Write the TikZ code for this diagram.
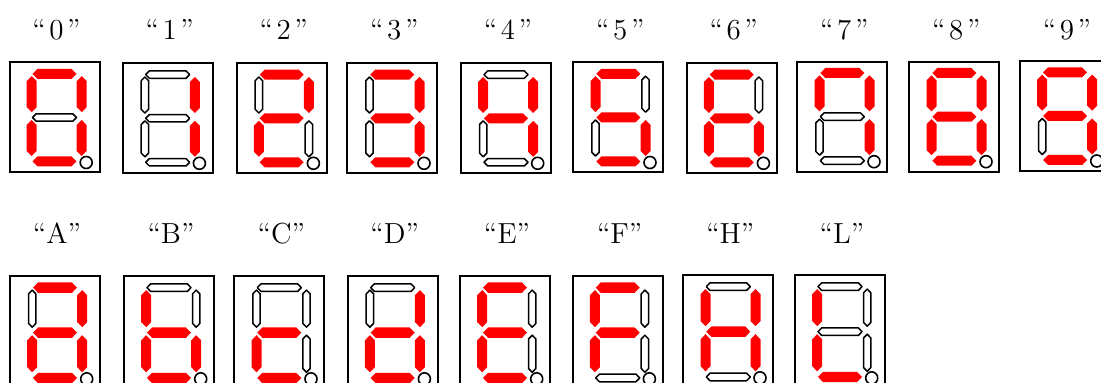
\documentclass[tikz,border=0pt]{standalone}
\usepackage{fontspec}
\makeatletter
\tikzset{
  boxframe/.style={draw=black, line width=1pt, minimum width=45pt, inner sep=0pt, outer sep=0pt},
  segon/.style={fill=red, draw=none},
  segoff/.style={fill=white, draw=black, line width=0.75pt, line join=round},
  dotring/.style={draw=black, line width=0.8pt, fill=white},
  lbl/.style={anchor=base, inner sep=0pt, font=\fontsize{14.5}{17}\selectfont},
}
\newcommand\hsegpath[4]{\path[#4] ({#1-22},#2) -- ({#1-22+#3},{#2-#3}) -- ({#1+22-#3},{#2-#3}) -- ({#1+22},#2) -- ({#1+22-#3},{#2+#3}) -- ({#1-22+#3},{#2+#3}) -- cycle;}
\newcommand\vsegpath[4]{\path[#4] (#1,{#2-18}) -- ({#1+#3},{#2-18+#3}) -- ({#1+#3},{#2+18-#3}) -- (#1,{#2+18}) -- ({#1-#3},{#2+18-#3}) -- ({#1-#3},{#2-18+#3}) -- cycle;}
\def\svnSa#1#2{\hsegpath{45}{11.3}{#1}{#2}}
\def\svnSg#1#2{\hsegpath{45}{55}{#1}{#2}}
\def\svnSd#1#2{\hsegpath{45}{99}{#1}{#2}}
\def\svnSf#1#2{\vsegpath{22.2}{31.7}{#1}{#2}}
\def\svnSb#1#2{\vsegpath{72.2}{31.7}{#1}{#2}}
\def\svnSe#1#2{\vsegpath{22.2}{75.5}{#1}{#2}}
\def\svnSc#1#2{\vsegpath{72.2}{75.5}{#1}{#2}}
\newcommand\svnOne[2]{%
  \in@{#1}{#2}%
  \ifin@\csname svnS#1\endcsname{5}{segon}\else\csname svnS#1\endcsname{3.7}{segoff}\fi}
% #1 name, #2 x0, #3 y0, #4 yscale, #5 lit segments, #6 label, #7 label baseline
\newcommand\segdisplay[7]{%
  \begin{scope}[shift={(#2,#3)}, yscale=#4]
    \node[boxframe, minimum height={55pt*#4}] (#1) at (45,55) {};
    \svnOne{a}{#5}\svnOne{b}{#5}\svnOne{c}{#5}\svnOne{d}{#5}%
    \svnOne{e}{#5}\svnOne{f}{#5}\svnOne{g}{#5}%
    \path[dotring] (76.7,100) circle[radius=3pt];
  \end{scope}
  \node[lbl] (#1-label) at ({#2+47},#7) {#6};}
\newcommand\dq[1]{``\kern1.8pt#1\kern1.8pt''}
\makeatother
\begin{document}
\begin{tikzpicture}[x=0.5pt,y=-0.5pt]
\clip (0,0) rectangle (1101,383);
\segdisplay{d0}{9.5}{62.5}{1}{abcdef}{\dq{0}}{39.3}
\segdisplay{d1}{122.7}{63.3}{1}{bc}{\dq{1}}{39.3}
\segdisplay{d2}{236.7}{63.3}{1}{abged}{\dq{2}}{39.3}
\segdisplay{d3}{347.3}{63.3}{1}{abgcd}{\dq{3}}{39.3}
\segdisplay{d4}{461}{63.3}{1}{fbgc}{\dq{4}}{39.3}
\segdisplay{d5}{573.3}{62.5}{1}{afgcd}{\dq{5}}{39.3}
\segdisplay{d6}{686.7}{63.3}{1}{afgecd}{\dq{6}}{39.3}
\segdisplay{d7}{797.3}{61.7}{1}{afbc}{\dq{7}}{39.3}
\segdisplay{d8}{909.3}{61.7}{1}{abcdefg}{\dq{8}}{39.3}
\segdisplay{d9}{1020}{61}{1}{abcdfg}{\dq{9}}{39.3}
\segdisplay{lA}{10}{276}{1.03}{abgecd}{``A''}{243.3}
\segdisplay{lB}{124}{276}{1.03}{fgecd}{``B''}{243.3}
\segdisplay{lC}{234.3}{276}{1.03}{ged}{``C''}{243.3}
\segdisplay{lD}{347.7}{276}{1.03}{bgecd}{``D''}{243.3}
\segdisplay{lE}{460}{276}{1.03}{afged}{``E''}{243.3}
\segdisplay{lF}{572.7}{276}{1.03}{afge}{``F''}{243.3}
\segdisplay{lH}{683.3}{275}{1.03}{fbgec}{``H''}{243.3}
\segdisplay{lL}{795}{275}{1.03}{fed}{``L''}{243.3}
\end{tikzpicture}
\end{document}
